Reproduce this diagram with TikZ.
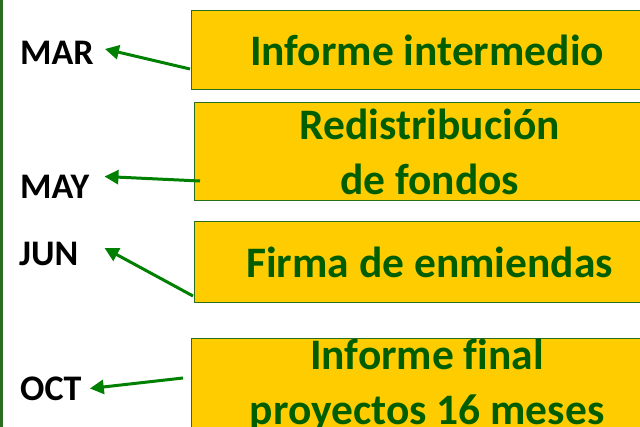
\documentclass[tikz,border=0pt]{standalone}
\usepackage{fontspec}
\setmainfont[Ligatures=NoCommon]{Carlito}
\usetikzlibrary{arrows.meta,calc}
\definecolor{boxfill}{RGB}{255,204,0}
\definecolor{boxline}{RGB}{40,110,30}
\definecolor{txtgreen}{RGB}{0,94,0}
\definecolor{arrgreen}{RGB}{0,128,0}
\begin{document}
\begin{tikzpicture}[x=1pt,y=-1pt,
 box/.style={draw=boxline, line width=1.2pt, fill=boxfill, text=txtgreen,
   font=\bfseries\fontsize{43.5}{55}\selectfont, align=center, inner sep=0pt, anchor=north west},
 month/.style={font=\bfseries\fontsize{36}{40}\selectfont, anchor=west, inner sep=0pt},
 arr/.style={draw=arrgreen, line width=3pt, -{Triangle[length=14pt,width=14pt]}}]
\useasboundingbox (0,0) rectangle (640,427);
\clip (0,0) rectangle (640,427);
\fill[white] (0,0) rectangle (640,427);
\draw[boxline, line width=3pt] (1.5,0) -- (1.5,427);
\node[box, minimum width=471pt, minimum height=79pt] (b1) at (191,10) {Informe intermedio};
\node[box, minimum width=470pt, minimum height=98pt] (b2) at (194,102) {Redistribución\\de fondos};
\node[box, minimum width=470pt, minimum height=81pt] (b3) at (194,221) {Firma de enmiendas};
\node[box, minimum width=471pt, minimum height=92pt] (b4) at (191,338) {Informe final\\proyectos 16 meses};
\node[month] (mar) at (20,53) {MAR};
\node[month] (may) at (20,186.5) {MAY};
\node[month] (jun) at (19,254) {JUN};
\node[month] (oct) at (20,388.5) {OCT};
\draw[arr] ($(b1.north west)+(-1,59)$) -- ($(mar.east)+(11,-4)$);
\draw[arr] ($(b2.north west)+(6,79)$) -- ($(may.east)+(15,-10)$);
\draw[arr] ($(b3.north west)+(-1,75)$) -- ($(jun.east)+(26,-6)$);
\draw[arr] ($(b4.north west)+(-8,40)$) -- ($(oct.east)+(8,0)$);
\end{tikzpicture}
\end{document}
